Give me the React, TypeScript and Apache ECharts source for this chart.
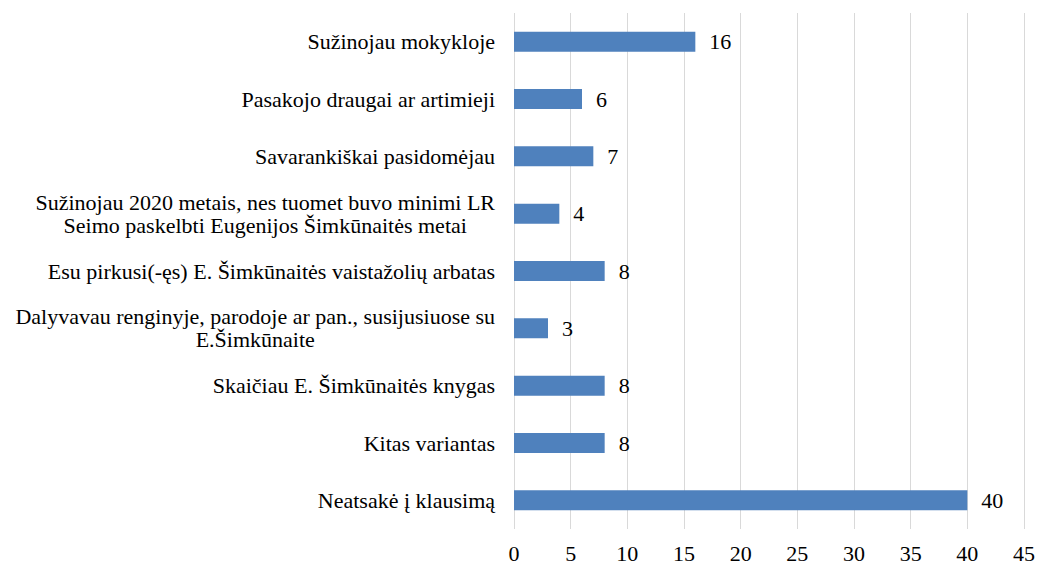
import React, { useEffect, useRef } from "react";
import * as echarts from "echarts";

const categories = [
  "Sužinojau mokykloje",
  "Pasakojo draugai ar artimieji",
  "Savarankiškai pasidomėjau",
  "Sužinojau 2020 metais, nes tuomet buvo minimi LR\nSeimo paskelbti Eugenijos Šimkūnaitės metai",
  "Esu pirkusi(-ęs) E. Šimkūnaitės vaistažolių arbatas",
  "Dalyvavau renginyje, parodoje ar pan., susijusiuose su\nE.Šimkūnaite",
  "Skaičiau E. Šimkūnaitės knygas",
  "Kitas variantas",
  "Neatsakė į klausimą",
];
const values = [16, 6, 7, 4, 8, 3, 8, 8, 40];

const FONT = "'Liberation Serif', 'Times New Roman', serif";
const FS = 22;

export default function App() {
  const ref = useRef<HTMLDivElement>(null);
  useEffect(() => {
    document.body.style.margin = "0";
    const chart = echarts.init(ref.current!, undefined, { renderer: "svg" });
    chart.setOption({
      animation: false,
      textStyle: { fontFamily: FONT },
      grid: { left: 514, right: 11, top: 13, bottom: 36, containLabel: false },
      xAxis: {
        type: "value",
        min: 0,
        max: 45,
        interval: 5,
        axisLine: { show: false },
        axisTick: { show: false },
        splitLine: { show: true, lineStyle: { color: "#d9d9d9", width: 1 } },
        axisLabel: { fontFamily: FONT, fontSize: FS, color: "#000", margin: 13 },
      },
      yAxis: {
        type: "category",
        data: categories,
        inverse: true,
        axisLine: { show: false },
        axisTick: { show: false },
        axisLabel: {
          margin: 19,
          fontFamily: FONT,
          fontSize: FS,
          formatter: (v: string) =>
            v
              .split("\n")
              .map((l) => "{c|" + l + "}")
              .join("\n"),
          rich: {
            c: {
              align: "center",
              fontFamily: FONT,
              fontSize: FS,
              color: "#000",
              lineHeight: 23,
            },
          },
        },
      },
      series: [
        {
          type: "bar",
          data: values,
          barWidth: 20,
          itemStyle: { color: "#4f81bd" },
          label: {
            show: true,
            position: "right",
            distance: 14,
            fontFamily: FONT,
            fontSize: FS,
            color: "#000",
          },
        },
      ],
    });
    return () => chart.dispose();
  }, []);
  return <div ref={ref} style={{ width: 1038, height: 565 }} />;
}
